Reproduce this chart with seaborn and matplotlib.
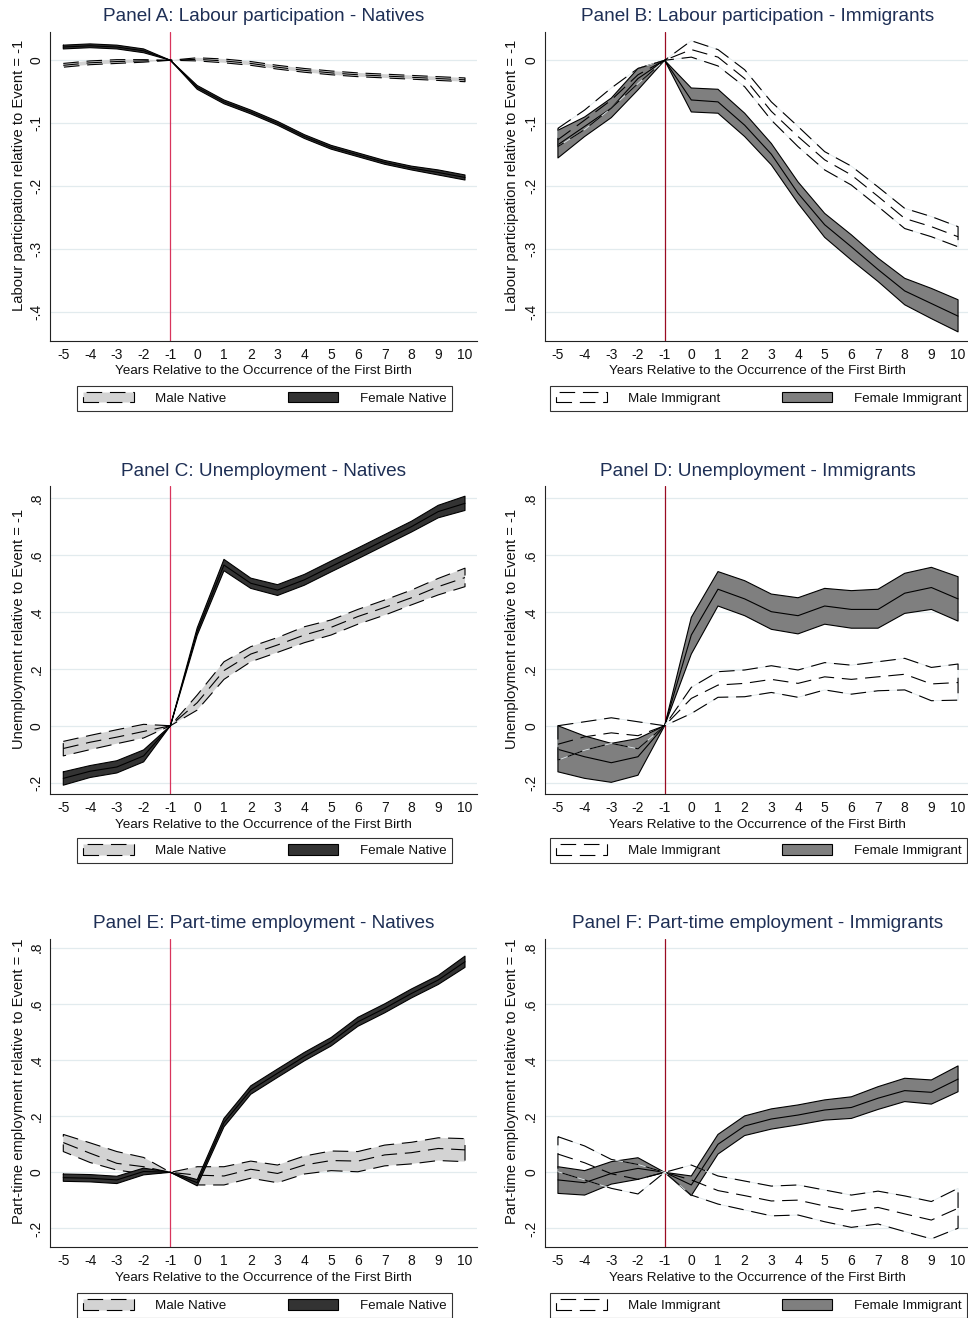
import numpy as np
import pandas as pd
import matplotlib
matplotlib.use("Agg")
import matplotlib.pyplot as plt
import seaborn as sns
from matplotlib.patches import Patch

sns.set_theme(style="white")
plt.rcParams["font.family"] = ["Liberation Sans", "DejaVu Sans"]
plt.rcParams["axes.unicode_minus"] = False

# ---------------------------------------------------------------- data
years = list(range(-5, 11))

# Panel A: labour participation, natives
A_male_est = [-0.008, -0.004, -0.002, -0.001, 0, 0.0015, -0.001, -0.005, -0.011, -0.016, -0.020, -0.023, -0.025, -0.027, -0.029, -0.031]
A_male_lo = [-0.011, -0.007, -0.005, -0.003, 0, -0.001, -0.004, -0.008, -0.014, -0.019, -0.023, -0.026, -0.028, -0.030, -0.032, -0.034]
A_male_hi = [-0.005, -0.001, 0.001, 0.001, 0, 0.004, 0.002, -0.002, -0.008, -0.013, -0.017, -0.020, -0.022, -0.024, -0.026, -0.028]
A_fem_est = [0.021, 0.023, 0.021, 0.015, 0, -0.043, -0.066, -0.082, -0.100, -0.121, -0.138, -0.150, -0.162, -0.171, -0.178, -0.186]
A_fem_lo = [0.018, 0.020, 0.018, 0.012, 0, -0.046, -0.069, -0.085, -0.103, -0.124, -0.141, -0.153, -0.165, -0.174, -0.182, -0.190]
A_fem_hi = [0.024, 0.026, 0.024, 0.018, 0, -0.040, -0.063, -0.079, -0.097, -0.118, -0.135, -0.147, -0.159, -0.168, -0.174, -0.182]

# Panel B: labour participation, immigrants
B_male_est = [-0.126, -0.095, -0.063, -0.023, 0, 0.017, 0.005, -0.029, -0.081, -0.121, -0.158, -0.182, -0.216, -0.251, -0.264, -0.280]
B_male_lo = [-0.137, -0.110, -0.076, -0.037, 0, 0.005, -0.009, -0.042, -0.095, -0.137, -0.174, -0.198, -0.232, -0.267, -0.280, -0.296]
B_male_hi = [-0.108, -0.079, -0.044, -0.013, 0, 0.031, 0.017, -0.015, -0.066, -0.105, -0.145, -0.168, -0.201, -0.235, -0.248, -0.264]
B_fem_est = [-0.134, -0.105, -0.076, -0.029, 0, -0.063, -0.066, -0.103, -0.149, -0.211, -0.261, -0.296, -0.332, -0.366, -0.386, -0.406]
B_fem_lo = [-0.155, -0.121, -0.091, -0.047, 0, -0.082, -0.084, -0.121, -0.166, -0.227, -0.281, -0.317, -0.351, -0.388, -0.410, -0.431]
B_fem_hi = [-0.111, -0.090, -0.060, -0.013, 0, -0.044, -0.046, -0.084, -0.132, -0.193, -0.243, -0.277, -0.314, -0.346, -0.362, -0.380]

# Panel C: unemployment, natives
C_male_est = [-0.080, -0.058, -0.040, -0.020, 0, 0.081, 0.194, 0.252, 0.284, 0.319, 0.346, 0.384, 0.416, 0.450, 0.489, 0.521]
C_male_lo = [-0.106, -0.084, -0.063, -0.043, 0, 0.055, 0.163, 0.225, 0.258, 0.292, 0.319, 0.357, 0.389, 0.425, 0.460, 0.489]
C_male_hi = [-0.055, -0.034, -0.014, 0.005, 0, 0.108, 0.225, 0.278, 0.310, 0.348, 0.372, 0.409, 0.442, 0.477, 0.518, 0.554]
C_fem_est = [-0.185, -0.160, -0.145, -0.106, 0, 0.331, 0.565, 0.501, 0.477, 0.513, 0.560, 0.606, 0.653, 0.700, 0.753, 0.782]
C_fem_lo = [-0.209, -0.182, -0.166, -0.127, 0, 0.318, 0.545, 0.483, 0.458, 0.494, 0.541, 0.587, 0.634, 0.681, 0.731, 0.757]
C_fem_hi = [-0.162, -0.140, -0.123, -0.085, 0, 0.344, 0.585, 0.519, 0.496, 0.532, 0.579, 0.625, 0.672, 0.719, 0.775, 0.807]

# Panel D: unemployment, immigrants
D_male_est = [-0.065, -0.039, -0.025, -0.035, 0, 0.096, 0.143, 0.149, 0.163, 0.149, 0.172, 0.163, 0.172, 0.181, 0.147, 0.152]
D_male_lo = [-0.121, -0.086, -0.062, -0.081, 0, 0.043, 0.100, 0.102, 0.117, 0.100, 0.126, 0.111, 0.123, 0.126, 0.088, 0.090]
D_male_hi = [0.000, 0.014, 0.028, 0.014, 0, 0.135, 0.190, 0.196, 0.211, 0.196, 0.222, 0.213, 0.225, 0.237, 0.205, 0.217]
D_fem_est = [-0.083, -0.109, -0.130, -0.109, 0, 0.319, 0.480, 0.446, 0.401, 0.387, 0.421, 0.409, 0.409, 0.466, 0.486, 0.446]
D_fem_lo = [-0.162, -0.185, -0.199, -0.174, 0, 0.252, 0.421, 0.387, 0.339, 0.323, 0.357, 0.343, 0.343, 0.395, 0.409, 0.368]
D_fem_hi = [0.000, -0.036, -0.062, -0.045, 0, 0.381, 0.542, 0.510, 0.463, 0.450, 0.483, 0.475, 0.480, 0.536, 0.557, 0.524]

# Panel E: part-time employment, natives
E_male_est = [0.106, 0.068, 0.032, 0.020, 0, -0.010, -0.013, 0.011, -0.004, 0.026, 0.042, 0.040, 0.062, 0.070, 0.085, 0.080]
E_male_lo = [0.074, 0.035, 0.008, -0.005, 0, -0.045, -0.045, -0.021, -0.037, -0.006, 0.006, 0.002, 0.023, 0.030, 0.042, 0.038]
E_male_hi = [0.135, 0.105, 0.074, 0.053, 0, 0.020, 0.020, 0.040, 0.026, 0.058, 0.076, 0.074, 0.097, 0.107, 0.123, 0.120]
E_fem_est = [-0.019, -0.021, -0.027, 0.003, 0, -0.037, 0.177, 0.293, 0.353, 0.412, 0.465, 0.536, 0.584, 0.637, 0.685, 0.750]
E_fem_lo = [-0.032, -0.034, -0.040, -0.009, 0, -0.048, 0.162, 0.278, 0.338, 0.397, 0.450, 0.520, 0.568, 0.621, 0.669, 0.730]
E_fem_hi = [-0.006, -0.008, -0.014, 0.015, 0, -0.026, 0.192, 0.308, 0.368, 0.427, 0.480, 0.552, 0.600, 0.653, 0.701, 0.770]

# Panel F: part-time employment, immigrants
F_male_est = [0.065, 0.034, -0.005, -0.025, 0, -0.027, -0.065, -0.083, -0.102, -0.099, -0.120, -0.138, -0.125, -0.148, -0.170, -0.128]
F_male_lo = [0.002, -0.027, -0.057, -0.077, 0, -0.081, -0.113, -0.134, -0.155, -0.152, -0.176, -0.196, -0.184, -0.211, -0.237, -0.199]
F_male_hi = [0.127, 0.094, 0.046, 0.028, 0, 0.026, -0.013, -0.031, -0.049, -0.045, -0.063, -0.081, -0.067, -0.084, -0.104, -0.057]
F_fem_est = [-0.027, -0.037, -0.004, 0.014, 0, -0.045, 0.100, 0.165, 0.190, 0.204, 0.222, 0.231, 0.264, 0.291, 0.285, 0.332]
F_fem_lo = [-0.075, -0.081, -0.042, -0.025, 0, -0.083, 0.065, 0.131, 0.154, 0.169, 0.186, 0.192, 0.224, 0.252, 0.243, 0.287]
F_fem_hi = [0.020, 0.006, 0.038, 0.052, 0, -0.013, 0.135, 0.201, 0.226, 0.240, 0.258, 0.269, 0.305, 0.335, 0.329, 0.379]

titles = ["Panel A: Labour participation - Natives",
          "Panel B: Labour participation - Immigrants",
          "Panel C: Unemployment - Natives",
          "Panel D: Unemployment - Immigrants",
          "Panel E: Part-time employment - Natives",
          "Panel F: Part-time employment - Immigrants"]
ylabels = ["Labour participation relative to Event = -1",
           "Unemployment relative to Event = -1",
           "Part-time employment relative to Event = -1"]
xlabel = "Years Relative to the Occurrence of the First Birth"
yticks_lab = [-0.4, -0.3, -0.2, -0.1, 0]
yticks_rate = [-0.2, 0, 0.2, 0.4, 0.6, 0.8]

# ---------------------------------------------------------------- style
W, H = 968, 1318
TITLE_COLOR = "#1e2f55"
GRID_COLOR = "#e2ebee"
DASH = (0, (14, 7))
LW = 0.8

STYLE = {
    "native": dict(male_face="#d3d3d3", fem_face="#333333", vline="#d8345c",
                   labels=("Male Native", "Female Native")),
    "immigrant": dict(male_face="white", fem_face="#7f7f7f", vline="#9a0b22",
                      labels=("Male Immigrant", "Female Immigrant")),
}


def stata_label(v):
    s = f"{v:g}"
    if s.startswith("0."):
        s = s[1:]
    elif s.startswith("-0."):
        s = "-" + s[2:]
    return s


def px_rect(left, top, right, bottom):
    return [left / W, 1 - bottom / H, (right - left) / W, (bottom - top) / H]


def band_frame(est, lo, hi):
    return pd.DataFrame({"year": years, "est": est, "lo": lo, "hi": hi})


def band_outline(df):
    ox = list(df["year"]) + list(df["year"][::-1]) + [df["year"].iloc[0]]
    oy = list(df["hi"]) + list(df["lo"][::-1]) + [df["hi"].iloc[0]]
    return ox, oy


def draw_fill(ax, df, face, z):
    ax.fill_between(df["year"], df["lo"], df["hi"], facecolor=face,
                    edgecolor="none", linewidth=0, zorder=z)


def draw_lines(ax, df, dashed, z, halo=False):
    ls = DASH if dashed else "-"
    ox, oy = band_outline(df)
    if halo:
        ax.plot(ox, oy, color="#dfe7ea", lw=0.6, zorder=z)
    ax.plot(ox, oy, color="black", lw=LW, linestyle=ls, zorder=z + 0.1)
    sns.lineplot(data=df, x="year", y="est", ax=ax, color="black", lw=LW,
                 linestyle=ls, zorder=z + 0.2, legend=False)


panels = [
    dict(title=titles[0], ylabel=ylabels[0], group="native", col=0, row=0,
         ylim=(-0.445, 0.0444), yticks=yticks_lab,
         male=(A_male_est, A_male_lo, A_male_hi), fem=(A_fem_est, A_fem_lo, A_fem_hi)),
    dict(title=titles[1], ylabel=ylabels[0], group="immigrant", col=1, row=0,
         ylim=(-0.445, 0.0444), yticks=yticks_lab,
         male=(B_male_est, B_male_lo, B_male_hi), fem=(B_fem_est, B_fem_lo, B_fem_hi)),
    dict(title=titles[2], ylabel=ylabels[1], group="native", col=0, row=1,
         ylim=(-0.240, 0.844), yticks=yticks_rate,
         male=(C_male_est, C_male_lo, C_male_hi), fem=(C_fem_est, C_fem_lo, C_fem_hi)),
    dict(title=titles[3], ylabel=ylabels[1], group="immigrant", col=1, row=1,
         ylim=(-0.240, 0.844), yticks=yticks_rate,
         male=(D_male_est, D_male_lo, D_male_hi), fem=(D_fem_est, D_fem_lo, D_fem_hi)),
    dict(title=titles[4], ylabel=ylabels[2], group="native", col=0, row=2,
         ylim=(-0.267, 0.831), yticks=yticks_rate,
         male=(E_male_est, E_male_lo, E_male_hi), fem=(E_fem_est, E_fem_lo, E_fem_hi)),
    dict(title=titles[5], ylabel=ylabels[2], group="immigrant", col=1, row=2,
         ylim=(-0.267, 0.831), yticks=yticks_rate,
         male=(F_male_est, F_male_lo, F_male_hi), fem=(F_fem_est, F_fem_lo, F_fem_hi)),
]

# pixel layout of each panel
col_x = [(50.3, 477.0), (545.0, 970.0)]
row_y = [(32.3, 340.7), (485.7, 794.0), (939.0, 1247.3)]
title_y = [16.7, 471.7, 924.0]
legend_y = [398.2, 850.5, 1305.8]
legend_x = [264.7, 758.7]
ylabel_off = [24.3, 25.7]
XLIM = (-5.485, 10.448)

fig = plt.figure(figsize=(W / 100, H / 100), dpi=100)
fig.patch.set_facecolor("white")

for p in panels:
    (l, r), (t, b) = col_x[p["col"]], row_y[p["row"]]
    ax = fig.add_axes(px_rect(l, t, r, b))
    st = STYLE[p["group"]]
    ax.set_facecolor("white")
    ax.set_xlim(*XLIM)
    ax.set_ylim(*p["ylim"])

    for yv in p["yticks"]:
        ax.axhline(yv, color=GRID_COLOR, lw=0.9, zorder=0.5)
    ax.axvline(-1, color=st["vline"], lw=0.9, zorder=1.2)

    dm = band_frame(*p["male"])
    dfm = band_frame(*p["fem"])
    if p["group"] == "native":
        draw_fill(ax, dm, st["male_face"], 2)
        draw_lines(ax, dm, True, 2.5)
        draw_fill(ax, dfm, st["fem_face"], 3)
        draw_lines(ax, dfm, False, 3.5)
    else:
        draw_fill(ax, dm, st["male_face"], 1.5)
        draw_fill(ax, dfm, st["fem_face"], 2)
        draw_lines(ax, dfm, False, 2.5)
        draw_lines(ax, dm, True, 3.5, halo=True)

    ax.set_xticks(years)
    ax.set_xticklabels([str(y) for y in years], fontsize=10)
    ax.set_yticks(p["yticks"])
    ax.set_yticklabels([stata_label(v) for v in p["yticks"]], fontsize=10)
    ax.tick_params(axis="both", direction="out", length=3.4, width=0.7,
                   color="#222222", labelcolor="#111111")
    ax.tick_params(axis="x", pad=1.5)
    ax.tick_params(axis="y", pad=1.5, labelrotation=90)
    for lab in ax.get_yticklabels():
        lab.set_verticalalignment("center")

    for side in ("top", "right"):
        ax.spines[side].set_visible(False)
    for side in ("left", "bottom"):
        ax.spines[side].set_color("#222222")
        ax.spines[side].set_linewidth(0.8)

    ax.set_xlabel(xlabel, fontsize=9.7, color="#111111")
    ax.set_ylabel(p["ylabel"], fontsize=10.6, color="#111111")
    ax.xaxis.set_label_coords(0.5, -24.5 / (b - t))
    ax.yaxis.set_label_coords(-ylabel_off[p["col"]] / (r - l), 0.537)

    fig.text(((l + r) / 2) / W, 1 - title_y[p["row"]] / H, p["title"],
             ha="center", va="center", fontsize=13.7, color=TITLE_COLOR)

    handles = [
        Patch(facecolor=st["male_face"], edgecolor="black", linestyle=DASH, linewidth=LW),
        Patch(facecolor=st["fem_face"], edgecolor="black", linewidth=LW),
    ]
    leg = fig.legend(handles, list(st["labels"]), loc="center",
                     bbox_to_anchor=(legend_x[p["col"]] / W, 1 - legend_y[p["row"]] / H),
                     ncol=2, frameon=True, fancybox=False, edgecolor="black",
                     fontsize=9.6, handlelength=3.8, handleheight=0.85,
                     handletextpad=1.6, columnspacing=4.6, borderpad=0.45,
                     borderaxespad=0)
    leg.get_frame().set_linewidth(0.8)
    for txt in leg.get_texts():
        txt.set_color("#111111")

fig.savefig("out.png", dpi=100, facecolor="white")
